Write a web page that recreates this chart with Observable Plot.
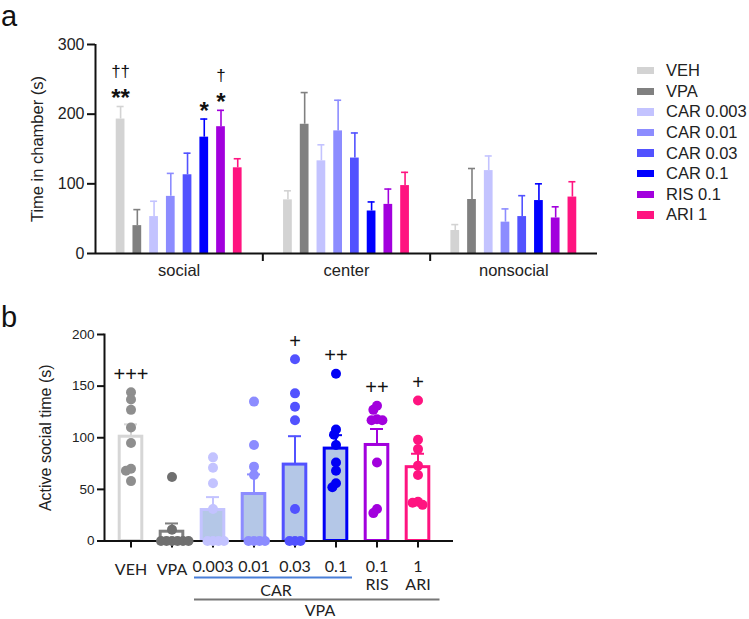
<!DOCTYPE html>
<html><head><meta charset="utf-8">
<script src="https://cdn.jsdelivr.net/npm/d3@7"></script>
<script src="https://cdn.jsdelivr.net/npm/@observablehq/plot@0.6"></script>
<style>
body{margin:0;background:#fff;font-family:"Liberation Sans",Arial,Helvetica,sans-serif;}
#fig{position:relative;width:749px;height:619px;overflow:hidden;background:#fff;}
#fig svg{position:absolute;left:0;}
#legend{position:absolute;left:637px;top:60.4px;}
#legend .row{display:flex;align-items:center;height:20.6px;font-size:16.5px;color:#222;white-space:nowrap;}
#legend .sw{width:17px;height:7.5px;margin-right:12px;flex:none;}
</style></head><body><div id="fig"></div>
<script>
// ---------- data: panel a ----------
const conditions = ["VEH","VPA","CAR 0.003","CAR 0.01","CAR 0.03","CAR 0.1","RIS 0.1","ARI 1"];
const chambers = ["social","center","nonsocial"];
const socialMean    = [193, 40, 53, 82, 113, 167, 182, 123];
const socialSem     = [18, 23, 22, 33, 31, 26, 23.5, 13];
const centerMean    = [77, 185.5, 133, 176, 137, 61, 70.5, 97.5];
const centerSem     = [13, 45.5, 23, 44, 36, 13, 22, 19];
const nonsocialMean = [33, 77.5, 119, 45, 53, 76, 51, 81];
const nonsocialSem  = [8.5, 44.5, 21, 19, 30, 24, 16, 22];
const yTicksA = [0, 100, 200, 300];
const sigA = [
  {chamber: "social", cond: "VEH", star: "**", dagger: "††"},
  {chamber: "social", cond: "CAR 0.1", star: "*", dagger: ""},
  {chamber: "social", cond: "RIS 0.1", star: "*", dagger: "†"}
];
// ---------- data: panel b ----------
const xLabelsB = ["VEH","VPA","0.003","0.01","0.03","0.1","0.1\nRIS","1\nARI"];
const meanB = [101, 9, 30, 45.5, 74, 89.5, 93, 71.5];
const semB  = [12, 8, 12.5, 19, 27.5, 13, 15.5, 13];
const dotsVEH    = [144, 137, 127, 110, 95, 70, 68, 58];
const dotsVPA    = [62, 11, 0, 0, 0, 0, 0, 0];
const dotsCAR003 = [81, 71, 56, 31, 0, 0, 0, 0];
const dotsCAR01  = [135, 93, 72, 64, 0, 0, 0, 0];
const dotsCAR03  = [176, 143, 130, 117, 31, 0, 0, 0];
const dotsCAR1   = [162, 108, 103, 93, 76, 68, 56, 52];
const dotsRIS    = [131, 127, 118, 117, 117, 76, 31, 27];
const dotsARI    = [136, 98, 89, 73, 64, 38, 37, 35];
const plusB = ["+++", "", "", "", "+", "++", "++", "+"];
const yTicksB = [0, 50, 100, 150, 200];
const brackets = [
  {label: "CAR", from: "CAR 0.003", to: "CAR 0.1", mid: "CAR 0.01"},
  {label: "VPA", from: "CAR 0.003", to: "ARI 1", mid: "CAR 0.03"}
];

// ---------- styles ----------
const FONT = '"Liberation Sans", Arial, Helvetica, sans-serif';
const FONT_B = 'Lato, "Open Sans", sans-serif';
const colorA  = ["#d3d3d3","#808080","#c3c3ff","#8c8cff","#5252ff","#0000ff","#a200dd","#ff1480"];
const strokeB = ["#d6d6d6","#7f7f7f","#c3c3ff","#8c8cff","#5252ff","#0000f5","#a200dd","#ff1480"];
const fillB   = ["#ffffff","#ffffff","#b4c7e7","#b4c7e7","#b4c7e7","#b4c7e7","#ffffff","#ffffff"];
const dotB    = ["#8e8e8e","#6f6f6f","#c3c3ff","#8c8cff","#5252ff","#0000f5","#a200dd","#ff1480"];
const ci = c => conditions.indexOf(c);

const fig = document.getElementById("fig");

// ---------- panel a ----------
const meansA = [socialMean, centerMean, nonsocialMean];
const semsA = [socialSem, centerSem, nonsocialSem];
const rowsA = chambers.flatMap((ch, g) => conditions.map((c, i) => ({
  chamber: ch, cond: c, slot: g * 10 + i + 1, mean: meansA[g][i], sem: semsA[g][i]
})));
const sigRows = sigA.map(s => {
  const r = rowsA.find(d => d.chamber === s.chamber && d.cond === s.cond);
  return {...s, slot: r.slot, top: r.mean + r.sem};
});

const plotA = Plot.plot({
  width: 749, height: 290,
  marginLeft: 95, marginRight: 152, marginTop: 44, marginBottom: 37,
  x: {domain: [0, 30]},
  y: {domain: [0, 300]},
  color: {domain: conditions, range: colorA},
  style: {fontFamily: FONT, color: "#222", background: "transparent", overflow: "visible"},
  marks: [
    Plot.rectY(rowsA, {x1: "slot", x2: d => d.slot + 1, y: "mean", fill: "cond", insetLeft: 4, insetRight: 4}),
    Plot.ruleX(rowsA, {x: d => d.slot + 0.5, y1: "mean", y2: d => d.mean + d.sem, stroke: "cond", strokeWidth: 1.6}),
    Plot.ruleY(rowsA, {y: d => d.mean + d.sem, x1: d => d.slot + 0.29, x2: d => d.slot + 0.71, stroke: "cond", strokeWidth: 1.6}),
    Plot.ruleX([0], {stroke: "#111", strokeWidth: 2}),
    Plot.ruleY([0], {stroke: "#111", strokeWidth: 2}),
    Plot.axisY({ticks: yTicksA, tickSize: 8, tickPadding: 3, fontSize: 16, strokeWidth: 2, stroke: "#111", label: null}),
    Plot.axisX({ticks: [10, 20], tickSize: 8, tickFormat: () => "", strokeWidth: 2, stroke: "#111", label: null}),
    Plot.axisX({ticks: [5, 15, 25], tickSize: 0, tickPadding: 11, tickFormat: v => chambers[(v - 5) / 10], fontSize: 16.5, label: null}),
    Plot.text(["Time in chamber (s)"], {text: d => d, frameAnchor: "left", textAnchor: "middle", dx: -58, rotate: -90, fontSize: 16.5}),
    Plot.text(sigRows, {x: d => d.slot + 0.5, y: "top", text: "star", dy: -8, fontSize: 24, fontWeight: "bold", fill: "#111"}),
    Plot.text(sigRows, {x: d => d.slot + 0.5, y: "top", text: "dagger", dy: -35, fontSize: 17, fill: "#111"})
  ]
});
plotA.style.top = "0px";
fig.appendChild(plotA);

// legend
const legend = document.createElement("div");
legend.id = "legend";
conditions.forEach((c, i) => {
  const row = document.createElement("div");
  row.className = "row";
  const sw = document.createElement("span");
  sw.className = "sw"; sw.style.background = colorA[i];
  const t = document.createElement("span");
  t.textContent = c;
  row.appendChild(sw); row.appendChild(t);
  legend.appendChild(row);
});
fig.appendChild(legend);

// ---------- panel b ----------
const dotArrays = [dotsVEH, dotsVPA, dotsCAR003, dotsCAR01, dotsCAR03, dotsCAR1, dotsRIS, dotsARI];
const barsB = conditions.map((c, i) => ({cond: c, mean: meanB[i], sem: semB[i], plus: plusB[i], max: d3.max(dotArrays[i])}));
const dotsB = conditions.flatMap((c, i) => dotArrays[i].map(v => ({cond: c, value: v})));
const bandB = {domain: conditions, paddingInner: 0, paddingOuter: 0.256, align: 0.305};
const dimsB = {width: 749, height: 319, marginLeft: 104, marginRight: 296, marginTop: 34, marginBottom: 78.5};
const lowTicks = conditions.slice(0, 2);
const doseTicks = conditions.slice(2);

const plotB = Plot.plot({
  ...dimsB,
  x: {...bandB},
  y: {domain: [0, 200]},
  color: {type: "identity"},
  style: {fontFamily: FONT, color: "#222", background: "transparent", overflow: "visible"},
  marks: [
    Plot.barY(barsB, {x: "cond", y: "mean", fill: d => fillB[ci(d.cond)], stroke: d => strokeB[ci(d.cond)], strokeWidth: 3, insetLeft: 9.2, insetRight: 9.2}),
    Plot.ruleX(barsB, {x: "cond", y1: "mean", y2: d => d.mean + d.sem, stroke: d => strokeB[ci(d.cond)], strokeWidth: 2}),
    Plot.tickY(barsB, {x: "cond", y: d => d.mean + d.sem, stroke: d => strokeB[ci(d.cond)], strokeWidth: 2, insetLeft: 14, insetRight: 14}),
    Plot.ruleY([0], {stroke: "#111", strokeWidth: 2}),
    Plot.frame({anchor: "left", stroke: "#111", strokeWidth: 2}),
    Plot.axisY({ticks: yTicksB, tickSize: 7, tickPadding: 3, fontSize: 13.5, strokeWidth: 2, stroke: "#111", label: null}),
    Plot.axisX({ticks: lowTicks, tickSize: 7, tickPadding: 15.5, tickFormat: c => xLabelsB[ci(c)], fontSize: 16, fontFamily: FONT_B, strokeWidth: 2, stroke: "#111", label: null}),
    Plot.axisX({ticks: doseTicks, tickSize: 7, tickPadding: 11, tickFormat: c => xLabelsB[ci(c)], fontSize: 16, fontFamily: FONT_B, lineHeight: 1.15, strokeWidth: 2, stroke: "#111", label: null}),
    Plot.text(barsB.filter(d => d.plus), {x: "cond", y: "max", text: "plus", dy: -18, fontSize: 20, fill: "#111"}),
    Plot.text(["Active social time (s)"], {text: d => d, frameAnchor: "left", textAnchor: "middle", dx: -59, rotate: -90, fontSize: 16}),
    Plot.ruleY([brackets[0]], {y: () => 0, x1: "from", x2: "to", dy: 36.5, stroke: "#4a7fd8", strokeWidth: 2, insetLeft: 2, insetRight: 4}),
    Plot.ruleY([brackets[1]], {y: () => 0, x1: "from", x2: "to", dy: 58.5, stroke: "#777", strokeWidth: 2, insetLeft: 2, insetRight: -1.5}),
    Plot.text([brackets[0]], {x: "mid", y: () => 0, text: "label", dx: 22, dy: 49.5, fontSize: 16, fontFamily: FONT_B, fill: "#222"}),
    Plot.text([brackets[1]], {x: "mid", y: () => 0, text: "label", dx: 25, dy: 69.5, fontSize: 16, fontFamily: FONT_B, fill: "#222"})
  ]
});
plotB.style.top = "300px";
fig.appendChild(plotB);

const plotDots = Plot.plot({
  ...dimsB,
  fx: {...bandB, axis: null, label: null},
  y: {domain: [0, 200], axis: null},
  color: {type: "identity"},
  style: {background: "transparent", overflow: "visible"},
  marks: [
    Plot.dot(dotsB, Plot.dodgeX({anchor: "middle", padding: -4.5}, {fx: "cond", y: "value", r: 5, fill: d => dotB[ci(d.cond)], stroke: "none"}))
  ]
});
plotDots.style.top = "300px";
plotDots.style.pointerEvents = "none";
fig.appendChild(plotDots);

// panel letters
const ns = "http://www.w3.org/2000/svg";
const lab = document.createElementNS(ns, "svg");
lab.setAttribute("width", 749); lab.setAttribute("height", 619);
lab.style.top = "0px"; lab.style.pointerEvents = "none";
[["a", 1, 26], ["b", 1, 327]].forEach(([t, x, y]) => {
  const el = document.createElementNS(ns, "text");
  el.setAttribute("x", x); el.setAttribute("y", y);
  el.setAttribute("font-size", 29); el.setAttribute("font-family", FONT); el.setAttribute("fill", "#111");
  el.textContent = t;
  lab.appendChild(el);
});
fig.appendChild(lab);
</script>
</body></html>
